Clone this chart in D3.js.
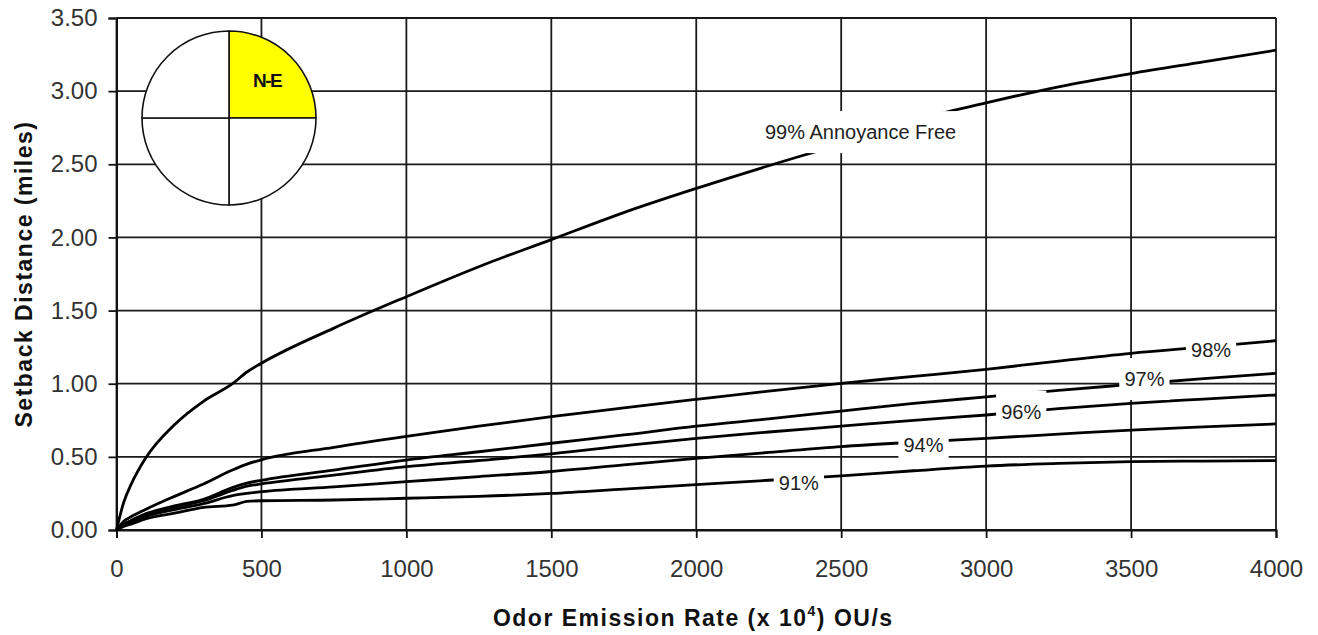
<!DOCTYPE html>
<html>
<head>
<meta charset="utf-8">
<script src="https://cdn.jsdelivr.net/npm/d3@7"></script>
<style>
  body { margin: 0; background: #fff; }
  svg { display: block; font-family: "Liberation Sans", Arial, sans-serif; }
</style>
</head>
<body>
<div id="chart"></div>
<script>
// Setback distance vs odor emission rate, N-E quadrant
const emission = [0, 25, 50, 100, 200, 300, 400, 450, 500, 750, 1000, 1250, 1500, 1750, 2000, 2250, 2500, 2750, 3000, 3250, 3500, 3750, 4000];

const free99 = [0, 0.19, 0.31, 0.49, 0.72, 0.88, 1.00, 1.08, 1.14, 1.38, 1.595, 1.80, 1.985, 2.17, 2.335, 2.49, 2.64, 2.80, 2.92, 3.03, 3.12, 3.20, 3.28];
const free98 = [0, 0.06, 0.09, 0.14, 0.23, 0.315, 0.41, 0.45, 0.48, 0.565, 0.64, 0.71, 0.775, 0.835, 0.893, 0.95, 1.003, 1.05, 1.098, 1.155, 1.208, 1.25, 1.294];
const free97 = [0, 0.04, 0.065, 0.11, 0.165, 0.21, 0.29, 0.32, 0.34, 0.41, 0.478, 0.535, 0.593, 0.65, 0.71, 0.76, 0.813, 0.865, 0.91, 0.955, 0.995, 1.035, 1.071];
const free96 = [0, 0.035, 0.06, 0.10, 0.155, 0.20, 0.27, 0.30, 0.315, 0.375, 0.433, 0.475, 0.52, 0.575, 0.627, 0.67, 0.71, 0.75, 0.786, 0.83, 0.866, 0.895, 0.923];
const free94 = [0, 0.03, 0.05, 0.09, 0.14, 0.18, 0.235, 0.25, 0.262, 0.295, 0.33, 0.365, 0.40, 0.445, 0.49, 0.53, 0.57, 0.60, 0.627, 0.655, 0.683, 0.705, 0.725];
const free91 = [0, 0.025, 0.04, 0.075, 0.115, 0.155, 0.17, 0.195, 0.20, 0.205, 0.217, 0.23, 0.25, 0.28, 0.31, 0.34, 0.37, 0.405, 0.437, 0.455, 0.467, 0.471, 0.474];

const seriesNames = ["99% Annoyance Free", "98%", "97%", "96%", "94%", "91%"];
const seriesValues = [free99, free98, free97, free96, free94, free91];
// where each curve label sits (emission, miles)
const labelX = [2567, 3776, 3546, 3121, 2784, 2354];
const labelY = [2.72, 1.235, 1.032, 0.809, 0.581, 0.323];

const xTicks = [0, 500, 1000, 1500, 2000, 2500, 3000, 3500, 4000];
const yTicks = [0, 0.5, 1, 1.5, 2, 2.5, 3, 3.5];

const quadrants = ["N-E", "S-E", "S-W", "N-W"];
const quadrantColors = ["#ffff00", "#ffffff", "#ffffff", "#ffffff"];

const W = 1318, H = 635;
const plot = { left: 116.5, top: 18, right: 1276, bottom: 530 };

const svg = d3.select("#chart").append("svg")
  .attr("width", W)
  .attr("height", H);

svg.append("rect").attr("width", W).attr("height", H).attr("fill", "#fff");

const x = d3.scaleLinear().domain([0, 4000]).range([plot.left, plot.right]);
const y = d3.scaleLinear().domain([0, 3.5]).range([plot.bottom, plot.top]);

// grid
const grid = svg.append("g").attr("stroke", "#1a1a1a").attr("stroke-width", 1.8);
grid.selectAll(".hg").data(yTicks).join("line")
  .attr("x1", plot.left).attr("x2", plot.right)
  .attr("y1", d => y(d)).attr("y2", d => y(d));
grid.selectAll(".vg").data(xTicks).join("line")
  .attr("y1", plot.top).attr("y2", plot.bottom)
  .attr("x1", d => x(d)).attr("x2", d => x(d));

// axes
const xAxis = svg.append("g")
  .attr("transform", `translate(0,${plot.bottom})`)
  .call(d3.axisBottom(x).tickValues(xTicks).tickSize(8).tickPadding(22).tickFormat(d3.format("d")));
const yAxis = svg.append("g")
  .attr("transform", `translate(${plot.left},0)`)
  .call(d3.axisLeft(y).tickValues(yTicks).tickSize(8).tickPadding(11).tickFormat(d3.format(".2f")));

[xAxis, yAxis].forEach(a => {
  a.select(".domain").attr("stroke", "#111").attr("stroke-width", 2);
  a.selectAll(".tick line").attr("stroke", "#111").attr("stroke-width", 1.8);
  a.selectAll(".tick text")
    .attr("fill", "#333")
    .style("font-size", "24px")
    .style("font-family", "'Liberation Sans', Arial, sans-serif");
});

// curves
const line = d3.line()
  .x((d, i) => x(emission[i]))
  .y(d => y(d))
  .curve(d3.curveMonotoneX);

svg.append("g").selectAll("path").data(seriesValues).join("path")
  .attr("d", d => line(d))
  .attr("fill", "none")
  .attr("stroke", "#000")
  .attr("stroke-width", 2.8)
  .attr("stroke-linejoin", "round");

// curve labels with white boxes
const labels = svg.append("g")
  .style("font-size", "20px")
  .style("font-family", "'Liberation Sans', Arial, sans-serif");

seriesNames.forEach((name, i) => {
  const g = labels.append("g").attr("transform", `translate(${x(labelX[i])},${y(labelY[i])})`);
  const rect = g.append("rect").attr("fill", "#fff");
  const t = g.append("text")
    .attr("text-anchor", "middle")
    .attr("dy", "0.36em")
    .attr("fill", "#222")
    .text(name);
  const bb = t.node().getBBox();
  rect.attr("x", -bb.width / 2 - 5).attr("y", -21)
    .attr("width", bb.width + 10).attr("height", 42);
});

// direction inset
const inset = svg.append("g").attr("transform", `translate(${plot.left + 112.5},${plot.top + 100})`);
const r = 87;
const pie = d3.pie().sort(null).value(() => 1);
const arc = d3.arc().innerRadius(0).outerRadius(r);
const labelArc = d3.arc().innerRadius(0).outerRadius(r * 1.24);

inset.selectAll("path").data(pie(quadrants)).join("path")
  .attr("d", arc)
  .attr("fill", (d, i) => quadrantColors[i])
  .attr("stroke", "#111")
  .attr("stroke-width", 1.6);

inset.append("text")
  .datum(pie(quadrants)[0])
  .attr("transform", d => `translate(${labelArc.centroid(d)})`)
  .attr("text-anchor", "middle")
  .attr("dy", "0.36em")
  .style("font-size", "19px")
  .style("font-weight", "bold")
  .style("letter-spacing", "-1.5px")
  .attr("fill", "#111")
  .text(quadrants[0]);

// axis titles
svg.append("text")
  .attr("x", (plot.left + plot.right) / 2 - 3)
  .attr("y", 626)
  .attr("text-anchor", "middle")
  .style("font-size", "23px")
  .style("font-weight", "bold")
  .style("letter-spacing", "1.5px")
  .attr("fill", "#111")
  .call(t => {
    t.append("tspan").text("Odor Emission Rate (x 10");
    t.append("tspan").attr("dy", -10).style("font-size", "14px").text("4");
    t.append("tspan").attr("dy", 10).text(") OU/s");
  });

svg.append("text")
  .attr("transform", `translate(32,${(plot.top + plot.bottom) / 2}) rotate(-90)`)
  .attr("text-anchor", "middle")
  .style("font-size", "23px")
  .style("font-weight", "bold")
  .style("letter-spacing", "1.5px")
  .attr("fill", "#111")
  .text("Setback Distance (miles)");
</script>
</body>
</html>
